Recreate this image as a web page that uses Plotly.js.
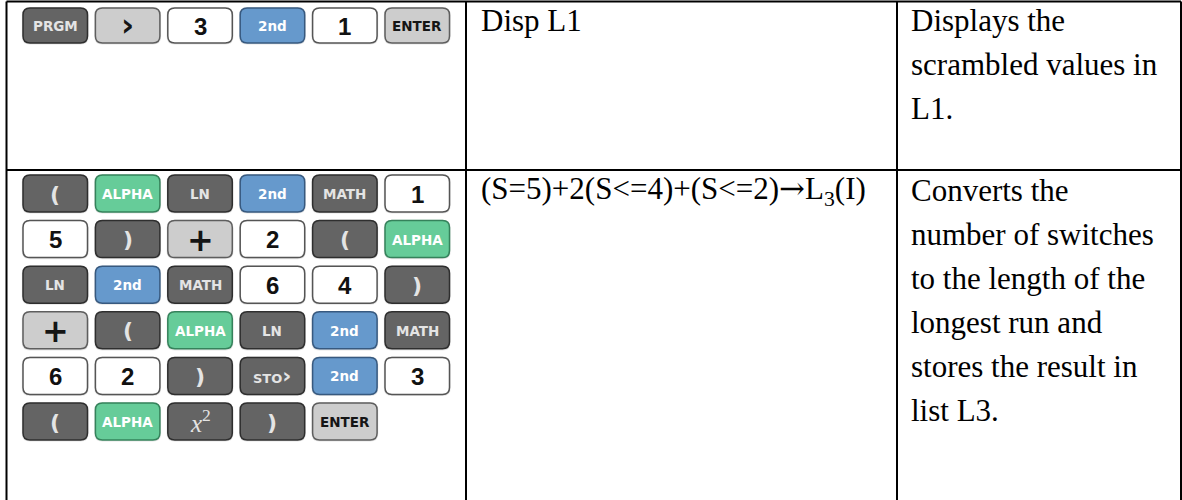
<!DOCTYPE html>
<html>
<head>
<meta charset="utf-8">
<script src="https://cdn.plot.ly/plotly-3.0.1.min.js"></script>
<style>html,body{margin:0;padding:0;background:#fff;}#chart{width:1182px;height:500px;}</style>
</head>
<body>
<div id="chart"></div>
<script>
// ---- data ----
const row1Keys = ['PRGM', 'RIGHT', '3', '2nd', '1', 'ENTER'];
const row1Code = ['Disp L1'];
const row1Desc = ['Displays the', 'scrambled values in', 'L1.'];

const row2Keys = [
  '(', 'ALPHA', 'LN', '2nd', 'MATH', '1',
  '5', ')', '+', '2', '(', 'ALPHA',
  'LN', '2nd', 'MATH', '6', '4', ')',
  '+', '(', 'ALPHA', 'LN', '2nd', 'MATH',
  '6', '2', ')', 'STO', '2nd', '3',
  '(', 'ALPHA', 'X2', ')', 'ENTER'
];
const row2Code = ['(S=5)+2(S&lt;=4)+(S&lt;=2)<span style="font-family:DejaVu Serif">→</span>L<sub>3</sub>(I)'];
const row2Desc = ['Converts the', 'number of switches', 'to the length of the',
                  'longest run and', 'stores the result in', 'list L3.'];

// ---- styles ----
const STY = {
  dark:  {fill: '#646464', line: '#2e2e2e', text: '#e4e4e4'},
  gray:  {fill: '#cdcdcd', line: '#5e5e5e', text: '#151515'},
  white: {fill: '#ffffff', line: '#555555', text: '#111111'},
  blue:  {fill: '#6699cc', line: '#37597f', text: '#ffffff'},
  green: {fill: '#66cc99', line: '#35825b', text: '#ffffff'}
};
function styleOf(k) {
  if (k === '2nd') return 'blue';
  if (k === 'ALPHA') return 'green';
  if (/^[0-9]$/.test(k)) return 'white';
  if (k === '+' || k === 'ENTER' || k === 'RIGHT') return 'gray';
  return 'dark';
}
function labelOf(k) {
  const sans = 'DejaVu Sans';
  if (/^[0-9]$/.test(k)) return {t: k, size: 24, fam: 'Liberation Sans', bold: true, dy: 0.5};
  if (k === '+') return {t: '+', size: 32, fam: 'DejaVu Sans', bold: true, dy: 0.5};
  if (k === '(' || k === ')') return {t: k, size: 22, fam: sans, bold: true, dy: 0.5};
  if (k === 'RIGHT') return {t: '›', size: 32, fam: sans, bold: true, dy: -1};
  if (k === 'STO') return {t: 'STO<span style="font-size:22px">›</span>', size: 13, fam: sans, bold: true, dy: 0};
  if (k === 'X2') return {t: '<i>x</i><sup>2</sup>', size: 25, fam: 'Liberation Serif', bold: false, dy: -1};
  return {t: k, size: 13.5, fam: sans, bold: true, dy: 0.5};
}

// ---- geometry ----
const KX0 = 23, KPITCH = 72.4, KW = 64.5;
const R1Y0 = 8, R1H = 35;
const R2Y0 = 175, R2PITCH = 45.6, R2H = 37;
const PER_ROW = 6;

const shapes = [];
const annotations = [];

function rr(x0, y0, x1, y1, r) {
  return `M ${x0 + r} ${y0} L ${x1 - r} ${y0} Q ${x1} ${y0} ${x1} ${y0 + r} ` +
         `L ${x1} ${y1 - r} Q ${x1} ${y1} ${x1 - r} ${y1} L ${x0 + r} ${y1} ` +
         `Q ${x0} ${y1} ${x0} ${y1 - r} L ${x0} ${y0 + r} Q ${x0} ${y0} ${x0 + r} ${y0} Z`;
}

function addKey(k, col, y0, h) {
  const s = STY[styleOf(k)];
  const x0 = KX0 + col * KPITCH, x1 = x0 + KW, y1 = y0 + h;
  shapes.push({type: 'path', xref: 'x', yref: 'y', path: rr(x0 - 1.2, y0 - 0.8, x1 + 1.2, y1 + 1.6, 8),
               fillcolor: 'rgba(0,0,0,0.10)', line: {width: 0}, layer: 'below'});
  shapes.push({type: 'path', xref: 'x', yref: 'y', path: rr(x0, y0, x1, y1, 7),
               fillcolor: s.fill, line: {color: s.line, width: 1.5}, layer: 'below'});
  const lb = labelOf(k);
  annotations.push({
    x: (x0 + x1) / 2, y: (y0 + y1) / 2 + lb.dy, xref: 'x', yref: 'y',
    text: lb.bold ? '<b>' + lb.t + '</b>' : lb.t, showarrow: false,
    xanchor: 'center', yanchor: 'middle',
    font: {family: lb.fam, size: lb.size, color: s.text}
  });
}

row1Keys.forEach((k, i) => addKey(k, i, R1Y0, R1H));
row2Keys.forEach((k, i) => addKey(k, i % PER_ROW, R2Y0 + Math.floor(i / PER_ROW) * R2PITCH, R2H));

// table lines
const TL = 6.5, C1 = 466, C2 = 897, TR = 1181, TT = 1.5, RD = 170;
const lineStyle = {color: '#000', width: 2};
[[TL, TT, TR, TT], [TL, RD, TR, RD], [TL, TT, TL, 500], [C1, TT, C1, 500], [C2, TT, C2, 500], [TR, TT, TR, 500]]
  .forEach(c => shapes.push({type: 'line', xref: 'x', yref: 'y', x0: c[0], y0: c[1], x1: c[2], y1: c[3], line: lineStyle}));

// text
const TF = {family: 'Liberation Serif, Times New Roman, serif', size: 31, color: '#000'};
const LPITCH = 44;
function addLines(lines, x, yFirst) {
  lines.forEach((t, i) => annotations.push({
    x: x, y: yFirst + i * LPITCH, xref: 'x', yref: 'y', text: t, showarrow: false,
    xanchor: 'left', yanchor: 'middle', font: TF
  }));
}
addLines(row1Code, 479, 20);
addLines(row1Desc, 909, 20);
addLines(row2Code, 479, 190);
addLines(row2Desc, 909, 190);

const layout = {
  width: 1182, height: 500,
  margin: {l: 0, r: 0, t: 0, b: 0},
  paper_bgcolor: '#fff', plot_bgcolor: '#fff',
  xaxis: {range: [0, 1182], visible: false, fixedrange: true},
  yaxis: {range: [500, 0], visible: false, fixedrange: true},
  showlegend: false,
  shapes: shapes,
  annotations: annotations
};
Plotly.newPlot('chart', [], layout, {staticPlot: true, displayModeBar: false});
</script>
</body>
</html>
